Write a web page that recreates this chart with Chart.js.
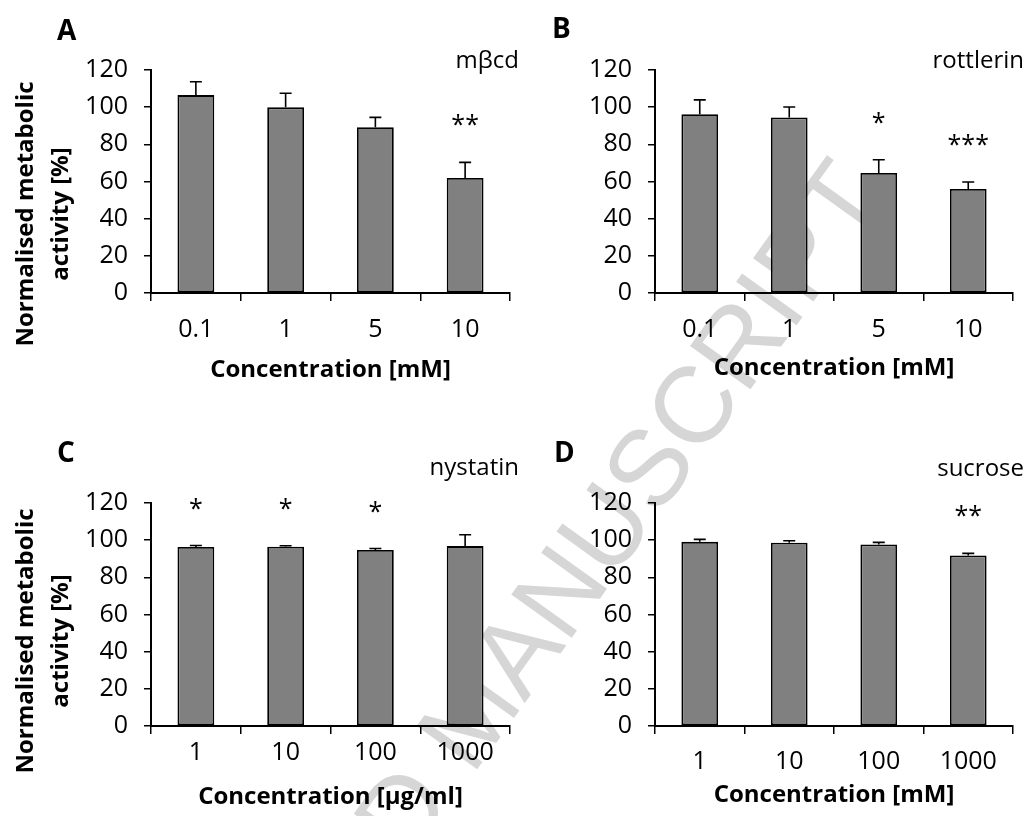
<!DOCTYPE html>
<html><head><meta charset="utf-8">
<script src="https://cdn.jsdelivr.net/npm/chart.js@4.4.0/dist/chart.umd.min.js"></script>
<style>
html,body{margin:0;padding:0;background:#fff;}
#wrap{position:relative;width:1026px;height:816px;overflow:hidden;background:#fff;}
.panel{position:absolute;}
.panel canvas{display:block;}
#wm{position:absolute;left:470px;top:716px;transform:translate(-50%,-50%) rotate(-54.3deg);font-family:"Liberation Sans",Arial,sans-serif;font-size:108px;color:#d6d6d6;white-space:nowrap;line-height:1;}
</style></head>
<body>
<div id="wrap">
<div id="wm">ACCEPTED MANUSCRIPT</div>
<div class="panel" style="left:0;top:0;"><canvas id="cA" width="522" height="400"></canvas></div>
<div class="panel" style="left:513px;top:0;"><canvas id="cB" width="513" height="400"></canvas></div>
<div class="panel" style="left:0;top:400px;"><canvas id="cC" width="522" height="416"></canvas></div>
<div class="panel" style="left:513px;top:400px;"><canvas id="cD" width="513" height="416"></canvas></div>
</div>
<script>
// ---- data ----
const catsMM = ["0.1", "1", "5", "10"];
const catsLog = ["1", "10", "100", "1000"];
const yTicks = [0, 20, 40, 60, 80, 100, 120];

const meanA = [106.5, 99.9, 89.2, 61.9];
const errA  = [7.2, 7.6, 5.3, 8.4];
const sigA  = ["", "", "", "**"];

const meanB = [96.2, 94.5, 64.6, 56.0];
const errB  = [7.7, 5.6, 7.1, 3.7];
const sigB  = ["", "", "*", "***"];

const meanC = [96.3, 96.5, 94.7, 96.8];
const errC  = [0.8, 0.5, 0.8, 6.1];
const sigC  = ["*", "*", "*", ""];

const meanD = [99.1, 98.6, 97.7, 91.8];
const errD  = [1.3, 1.1, 1.1, 1.1];
const sigD  = ["", "", "", "**"];

const yTitleLines = ["Normalised metabolic", "activity [%]"];
const xTitleMM = "Concentration [mM]";
const xTitleUg = "Concentration [µg/ml]";

// ---- style ----
const FONT = '"Open Sans", sans-serif';
const TICK_SIZE = 25;
const TITLE_SIZE = 24;

const errorPlugin = {
  id: 'errbars',
  afterDatasetsDraw(chart, args, opts) {
    const ctx = chart.ctx;
    const meta = chart.getDatasetMeta(0);
    const ys = chart.scales.y;
    const ds = chart.data.datasets[0];
    ctx.save();
    meta.data.forEach((el, i) => {
      const top = ys.getPixelForValue(ds.data[i] + opts.err[i]);
      ctx.strokeStyle = '#000';
      ctx.lineWidth = 1.6;
      ctx.beginPath();
      ctx.moveTo(el.x, el.y);
      ctx.lineTo(el.x, top);
      ctx.moveTo(el.x - 6, top);
      ctx.lineTo(el.x + 6, top);
      ctx.stroke();
      if (opts.sig[i]) {
        ctx.fillStyle = '#000';
        ctx.font = TICK_SIZE + 'px ' + FONT;
        ctx.textAlign = 'center';
        ctx.textBaseline = 'alphabetic';
        ctx.fillText(opts.sig[i], el.x, top - 43 + 14);
      }
    });
    ctx.restore();
  }
};

const textPlugin = {
  id: 'paneltext',
  afterDraw(chart, args, o) {
    const ctx = chart.ctx;
    ctx.save();
    ctx.fillStyle = '#000';
    ctx.textBaseline = 'alphabetic';
    ctx.font = 'bold 28px ' + FONT;
    ctx.textAlign = 'left';
    ctx.fillText(o.letter, o.letterX, o.letterY);
    ctx.font = '24px ' + FONT;
    ctx.textAlign = 'right';
    ctx.fillText(o.drug, o.drugX, o.drugY);
    if (o.yTitle) {
      ctx.font = 'bold ' + TITLE_SIZE + 'px ' + FONT;
      ctx.textAlign = 'center';
      o.yTitle.forEach((line, k) => {
        ctx.save();
        ctx.translate(o.yTitleX[k], o.yTitleY);
        ctx.rotate(-Math.PI / 2);
        ctx.fillText(line, 0, 0);
        ctx.restore();
      });
    }
    ctx.restore();
  }
};

function makePanel(id, labels, mean, err, sig, xTitle, L) {
  return new Chart(document.getElementById(id), {
    type: 'bar',
    data: {
      labels: labels,
      datasets: [{
        data: mean,
        backgroundColor: '#808080',
        borderColor: '#000',
        borderWidth: 1.8,
        borderSkipped: false,
        barPercentage: 0.41,
        categoryPercentage: 1
      }]
    },
    options: {
      responsive: false,
      animation: false,
      devicePixelRatio: 1,
      layout: { padding: { left: 0, top: L.top, right: L.padRight, bottom: 0 } },
      plugins: {
        legend: { display: false },
        tooltip: { enabled: false },
        errbars: { err: err, sig: sig },
        paneltext: L.text
      },
      scales: {
        x: {
          grid: { display: true, drawOnChartArea: false, drawTicks: true, tickLength: 8, color: '#000', lineWidth: 1.5, offset: true },
          border: { display: true, color: '#000', width: 2 },
          ticks: { color: '#000', font: { family: FONT, size: TICK_SIZE }, padding: L.xLabelPad, maxRotation: 0, autoSkip: false },
          title: { display: true, text: xTitle, color: '#000', font: { family: FONT, size: TITLE_SIZE, weight: 'bold' }, padding: { top: 0, bottom: L.xTitlePad } },
          afterFit(s) { s.height = L.xHeight; }
        },
        y: {
          min: 0, max: 120,
          afterBuildTicks(s) { s.ticks = yTicks.map(v => ({ value: v })); },
          ticks: { color: '#000', font: { family: FONT, size: TICK_SIZE }, padding: 16 },
          grid: { display: true, drawOnChartArea: false, drawTicks: true, tickLength: 7, color: '#000', lineWidth: 1.5 },
          border: { display: true, color: '#000', width: 2 },
          afterFit(s) { s.width = L.left; }
        }
      }
    },
    plugins: [errorPlugin, textPlugin]
  });
}

makePanel('cA', catsMM, meanA, errA, sigA, xTitleMM, {
  top: 70, padRight: 12, left: 151, xHeight: 107, xLabelPad: 14, xTitlePad: 15,
  text: { letter: 'A', letterX: 57, letterY: 40, drug: 'mβcd', drugX: 519, drugY: 68,
          yTitle: yTitleLines, yTitleX: [33, 67.5], yTitleY: 214 }
});
makePanel('cB', catsMM, meanB, errB, sigB, xTitleMM, {
  top: 70, padRight: 13, left: 142, xHeight: 107, xLabelPad: 14, xTitlePad: 17,
  text: { letter: 'B', letterX: 39, letterY: 38, drug: 'rottlerin', drugX: 511, drugY: 68 }
});
makePanel('cC', catsLog, meanC, errC, sigC, xTitleUg, {
  top: 103, padRight: 12, left: 151, xHeight: 90, xLabelPad: 4, xTitlePad: 4,
  text: { letter: 'C', letterX: 57, letterY: 62, drug: 'nystatin', drugX: 519, drugY: 75,
          yTitle: yTitleLines, yTitleX: [33, 67.5], yTitleY: 241 }
});
makePanel('cD', catsLog, meanD, errD, sigD, xTitleMM, {
  top: 103, padRight: 13, left: 142, xHeight: 90, xLabelPad: 13, xTitlePad: 6,
  text: { letter: 'D', letterX: 41, letterY: 62, drug: 'sucrose', drugX: 511, drugY: 76 }
});
</script>
</body></html>
